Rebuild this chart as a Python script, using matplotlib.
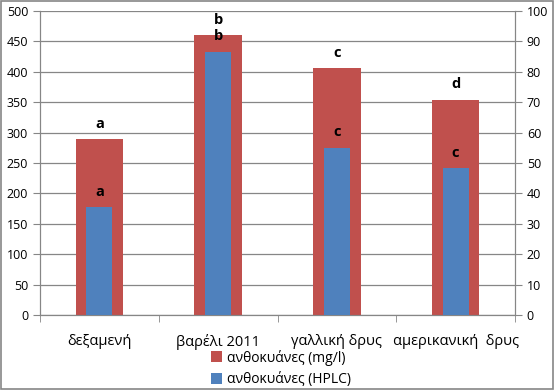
import matplotlib
matplotlib.use('Agg')
import matplotlib.pyplot as plt
import numpy as np
from matplotlib.patches import Rectangle

plt.rcParams['font.family'] = ['Open Sans', 'DejaVu Sans']

categories = ['δεξαμενή', 'βαρέλι 2011', 'γαλλική δρυς', 'αμερικανική  δρυς']
mg_values = [289.5, 460.5, 406, 354]
hplc_values = [35.4, 86.6, 55.0, 48.2]
mg_letters = ['a', 'b', 'c', 'd']
hplc_letters = ['a', 'b', 'c', 'c']

red = '#c0504d'
blue = '#4f81bd'
grid_c = '#868686'

fig = plt.figure(figsize=(5.55, 3.9), dpi=100)
ax = fig.add_axes([40 / 555, 1 - 315 / 390, 475 / 555, 304 / 390])
ax2 = ax.twinx()

x = np.arange(len(categories))
ax.bar(x, mg_values, width=0.4, color=red, zorder=2, label='ανθοκυάνες (mg/l)')
ax2.bar(x, hplc_values, width=0.22, color=blue, zorder=3, label='ανθοκυάνες (HPLC)')

ax.set_ylim(0, 500)
ax2.set_ylim(0, 100)
ax.set_xlim(-0.5, 3.5)
ax.set_yticks(range(0, 501, 50))
ax2.set_yticks(range(0, 101, 10))
ax.yaxis.grid(True, color=grid_c, linewidth=0.9, zorder=0)
ax.set_axisbelow(True)

ax.set_xticks(x)
ax.set_xticklabels(categories, fontsize=10.5)
ax.set_xticks(np.arange(-0.5, 4, 1), minor=True)
ax.tick_params(axis='x', which='major', length=0, pad=14)
ax.tick_params(axis='x', which='minor', length=5, color=grid_c, direction='out')
ax.tick_params(axis='y', labelsize=9, length=5, color=grid_c)
ax2.tick_params(axis='y', labelsize=9, length=5, color=grid_c)

for a in (ax, ax2):
    a.spines['top'].set_visible(False)
    for s in ('left', 'right', 'bottom'):
        a.spines[s].set_color(grid_c)

# significance letters
for i in range(len(categories)):
    ax.annotate(mg_letters[i], (x[i], mg_values[i]), xytext=(0, 6), textcoords='offset points',
                ha='center', va='bottom', fontsize=10.5, fontweight='bold')
    ax2.annotate(hplc_letters[i], (x[i], hplc_values[i]), xytext=(0, 6), textcoords='offset points',
                 ha='center', va='bottom', fontsize=10.5, fontweight='bold')

h1, l1 = ax.get_legend_handles_labels()
h2, l2 = ax2.get_legend_handles_labels()
fig.legend(h1 + h2, l1 + l2, loc='upper left', bbox_to_anchor=(198 / 555, 1 - 337 / 390),
           frameon=False, fontsize=10, handlelength=0.8, handleheight=0.8,
           handletextpad=0.4, labelspacing=0.5)

fig.patches.append(Rectangle((0.002, 0.003), 0.995, 0.994, transform=fig.transFigure,
                             fill=False, edgecolor=grid_c, linewidth=1.2))

fig.savefig('out.png', dpi=100)
